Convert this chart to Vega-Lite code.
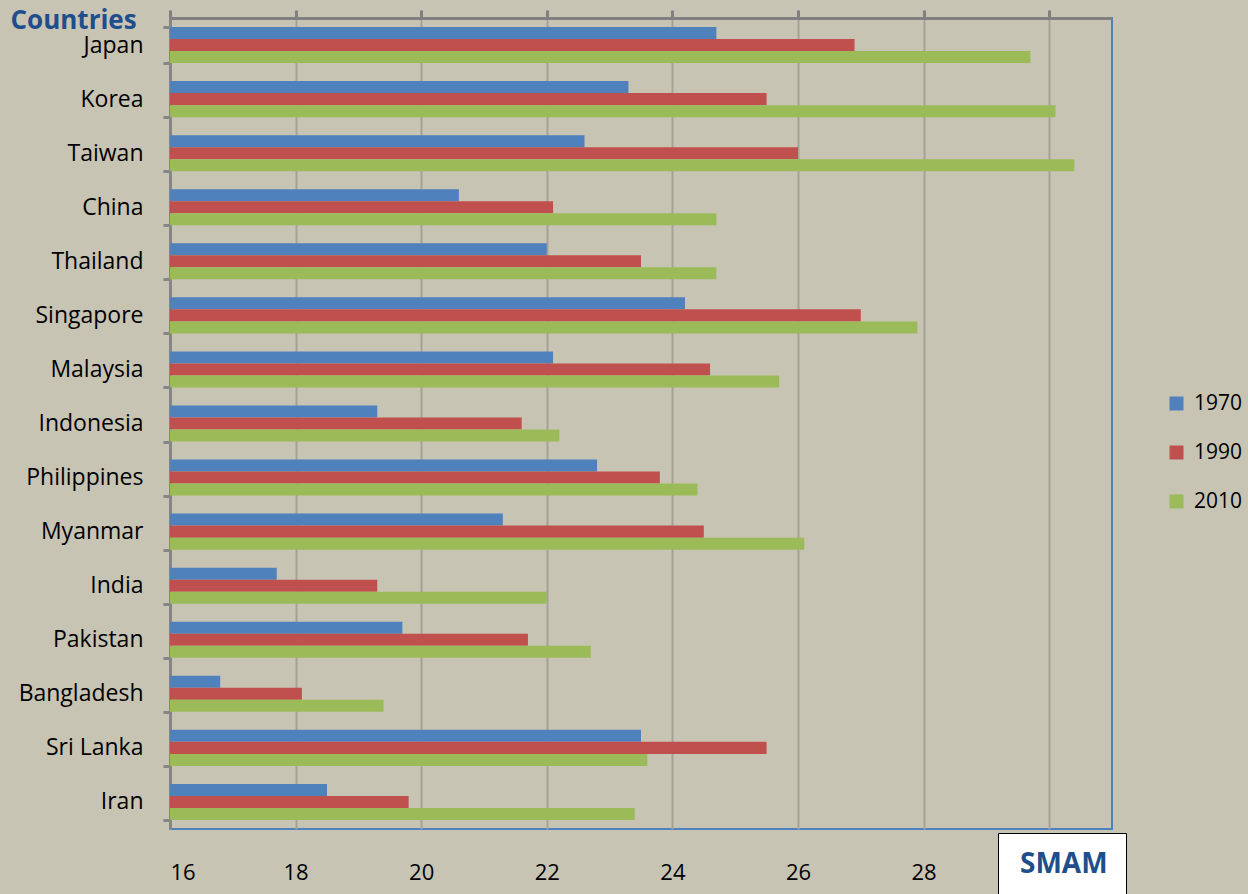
{
  "$schema": "https://vega.github.io/schema/vega-lite/v6.json",
  "autosize": {"type": "none"},
  "padding": {"left": 170, "top": 18, "right": 136, "bottom": 65},
  "width": 942,
  "height": 811,
  "background": "#c8c4b4",
  "config": {
    "font": "Open Sans",
    "view": {"stroke": "#4f81bd", "strokeWidth": 2},
    "axis": {"labelColor": "#000000", "labelFont": "Open Sans"}
  },
  "data": {
    "values": [
      {"country": "Japan", "year": "1970", "value": 24.7},
      {"country": "Japan", "year": "1990", "value": 26.9},
      {"country": "Japan", "year": "2010", "value": 29.7},
      {"country": "Korea", "year": "1970", "value": 23.3},
      {"country": "Korea", "year": "1990", "value": 25.5},
      {"country": "Korea", "year": "2010", "value": 30.1},
      {"country": "Taiwan", "year": "1970", "value": 22.6},
      {"country": "Taiwan", "year": "1990", "value": 26.0},
      {"country": "Taiwan", "year": "2010", "value": 30.4},
      {"country": "China", "year": "1970", "value": 20.6},
      {"country": "China", "year": "1990", "value": 22.1},
      {"country": "China", "year": "2010", "value": 24.7},
      {"country": "Thailand", "year": "1970", "value": 22.0},
      {"country": "Thailand", "year": "1990", "value": 23.5},
      {"country": "Thailand", "year": "2010", "value": 24.7},
      {"country": "Singapore", "year": "1970", "value": 24.2},
      {"country": "Singapore", "year": "1990", "value": 27.0},
      {"country": "Singapore", "year": "2010", "value": 27.9},
      {"country": "Malaysia", "year": "1970", "value": 22.1},
      {"country": "Malaysia", "year": "1990", "value": 24.6},
      {"country": "Malaysia", "year": "2010", "value": 25.7},
      {"country": "Indonesia", "year": "1970", "value": 19.3},
      {"country": "Indonesia", "year": "1990", "value": 21.6},
      {"country": "Indonesia", "year": "2010", "value": 22.2},
      {"country": "Philippines", "year": "1970", "value": 22.8},
      {"country": "Philippines", "year": "1990", "value": 23.8},
      {"country": "Philippines", "year": "2010", "value": 24.4},
      {"country": "Myanmar", "year": "1970", "value": 21.3},
      {"country": "Myanmar", "year": "1990", "value": 24.5},
      {"country": "Myanmar", "year": "2010", "value": 26.1},
      {"country": "India", "year": "1970", "value": 17.7},
      {"country": "India", "year": "1990", "value": 19.3},
      {"country": "India", "year": "2010", "value": 22.0},
      {"country": "Pakistan", "year": "1970", "value": 19.7},
      {"country": "Pakistan", "year": "1990", "value": 21.7},
      {"country": "Pakistan", "year": "2010", "value": 22.7},
      {"country": "Bangladesh", "year": "1970", "value": 16.8},
      {"country": "Bangladesh", "year": "1990", "value": 18.1},
      {"country": "Bangladesh", "year": "2010", "value": 19.4},
      {"country": "Sri Lanka", "year": "1970", "value": 23.5},
      {"country": "Sri Lanka", "year": "1990", "value": 25.5},
      {"country": "Sri Lanka", "year": "2010", "value": 23.6},
      {"country": "Iran", "year": "1970", "value": 18.5},
      {"country": "Iran", "year": "1990", "value": 19.8},
      {"country": "Iran", "year": "2010", "value": 23.4}
    ]
  },
  "encoding": {
    "y": {
      "field": "country",
      "type": "nominal",
      "sort": ["Japan", "Korea", "Taiwan", "China", "Thailand", "Singapore", "Malaysia", "Indonesia", "Philippines", "Myanmar", "India", "Pakistan", "Bangladesh", "Sri Lanka", "Iran"],
      "scale": {"paddingInner": 0.333, "paddingOuter": 0.167},
      "axis": {
        "title": "Countries",
        "titleAngle": 0,
        "titleAlign": "left",
        "titleBaseline": "alphabetic",
        "titleX": -160,
        "titleY": 10,
        "titleFont": "Open Sans",
        "titleFontSize": 26,
        "titleFontWeight": "bold",
        "titleColor": "#1f4e8c",
        "labelFontSize": 23,
        "labelPadding": 20,
        "domainColor": "#868686",
        "domainWidth": 3,
        "tickColor": "#868686",
        "tickWidth": 3,
        "tickSize": 7,
        "tickBand": "extent",
        "grid": false
      }
    }
  },
  "layer": [
    {
      "mark": {"type": "bar", "clip": true},
      "encoding": {
        "x": {
          "field": "value",
          "type": "quantitative",
          "scale": {"domain": [16, 31], "zero": false, "nice": false},
          "axis": {
            "orient": "bottom",
            "title": null,
            "values": [16, 18, 20, 22, 24, 26, 28, 30],
            "labelFontSize": 22,
            "labelPadding": 33,
            "labelExpr": "datum.value == 30 ? '' : datum.label",
            "domain": false,
            "ticks": false,
            "grid": true,
            "gridColor": "#a3a198",
            "gridWidth": 2
          }
        },
        "yOffset": {"field": "year", "type": "nominal", "sort": ["1970", "1990", "2010"], "scale": {"paddingInner": 0, "paddingOuter": 0}},
        "color": {
          "field": "year",
          "type": "nominal",
          "scale": {"domain": ["1970", "1990", "2010"], "range": ["#4f81bd", "#c0504d", "#9bbb59"]},
          "legend": {
            "title": null,
            "orient": "none",
            "legendX": 996,
            "legendY": 375,
            "padding": 0,
            "symbolType": "square",
            "symbolSize": 196,
            "symbolStrokeWidth": 0,
            "labelFontSize": 21,
            "labelFont": "Open Sans",
            "labelColor": "#000000",
            "labelOffset": 7,
            "rowPadding": 27
          }
        }
      }
    },
    {
      "mark": {"type": "tick", "opacity": 0},
      "encoding": {
        "x": {
          "field": "value",
          "type": "quantitative",
          "axis": {
            "orient": "top",
            "title": null,
            "values": [16, 18, 20, 22, 24, 26, 28, 30],
            "labels": false,
            "domain": true,
            "domainColor": "#808080",
            "domainWidth": 3,
            "ticks": true,
            "tickColor": "#808080",
            "tickWidth": 3,
            "tickSize": 8,
            "grid": false
          }
        },
        "strokeDash": {
          "datum": "SMAM",
          "legend": {
            "title": null,
            "orient": "none",
            "legendX": 828,
            "legendY": 815,
            "padding": 18,
            "fillColor": "#ffffff",
            "strokeColor": "#000000",
            "symbolType": "square",
            "symbolSize": 0,
            "symbolOpacity": 0,
            "labelOffset": -24,
            "labelLimit": 0,
            "labelFont": "Open Sans",
            "labelFontSize": 28,
            "labelFontWeight": "bold",
            "labelColor": "#1f4e8c",
            "labelExpr": "datum.label + '\u00a0\u00a0'"
          }
        }
      }
    }
  ],
  "resolve": {"axis": {"x": "independent"}}
}
